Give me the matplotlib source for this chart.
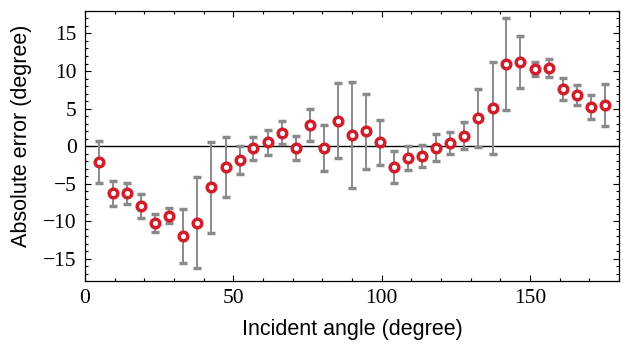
import matplotlib.pyplot as plt
from matplotlib.ticker import MultipleLocator

# incident angle (degree)
angle = [4.7, 9.5, 14.2, 18.9, 23.7, 28.4, 33.2, 37.9, 42.6, 47.4,
         52.1, 56.8, 61.6, 66.3, 71.1, 75.8, 80.5, 85.3, 90.0, 94.7,
         99.5, 104.2, 108.9, 113.7, 118.4, 123.2, 127.9, 132.6, 137.4, 142.1,
         146.8, 151.6, 156.3, 161.1, 165.8, 170.5, 175.3]
# absolute error (degree)
err_mean = [-2.1, -6.3, -6.3, -8.0, -10.3, -9.3, -12.0, -10.2, -5.5, -2.8,
            -1.9, -0.3, 0.5, 1.8, -0.3, 2.8, -0.3, 3.4, 1.5, 2.0,
            0.5, -2.8, -1.6, -1.3, -0.2, 0.45, 1.4, 3.7, 5.1, 10.9,
            11.2, 10.3, 10.4, 7.6, 6.8, 5.2, 5.5]
err_sd = [2.8, 1.65, 1.4, 1.55, 1.2, 1.0, 3.65, 6.1, 6.05, 3.95,
          1.85, 1.5, 1.65, 1.5, 1.6, 2.15, 3.05, 5.0, 7.1, 5.0,
          3.0, 2.1, 1.6, 1.45, 1.75, 1.45, 1.85, 3.85, 6.1, 6.15,
          3.5, 0.95, 1.2, 1.5, 1.35, 1.6, 2.8]

plt.rcParams["font.family"] = "Liberation Serif"
plt.rcParams["axes.unicode_minus"] = True

fig = plt.figure(figsize=(6.23, 3.47), dpi=100)
ax = fig.add_axes([0.1364, 0.1902, 0.857, 0.7781])

ax.axhline(0, color="black", lw=1.0, zorder=1)
ax.errorbar(angle, err_mean, yerr=err_sd, fmt="o", color="#8a8a8a",
            ecolor="#8a8a8a", elinewidth=1.4, capsize=2.6, capthick=1.2,
            mfc="white", mec="#d01f2b", ms=6.2, mew=2.5, zorder=3)

ax.set_xlim(0, 180)
ax.set_ylim(-18, 18)
ax.xaxis.set_major_locator(MultipleLocator(50))
ax.xaxis.set_minor_locator(MultipleLocator(10))
ax.yaxis.set_major_locator(MultipleLocator(5))
ax.yaxis.set_minor_locator(MultipleLocator(1))
ax.tick_params(which="both", direction="in", top=True, right=True,
               width=0.8, labelsize=15.5)
ax.tick_params(which="major", length=4.3, pad=6)
ax.tick_params(which="minor", length=2.4)
for s in ax.spines.values():
    s.set_linewidth(0.9)

ax.set_xlabel("Incident angle (degree)", family="Liberation Sans",
              fontsize=15.5, labelpad=8)
ax.set_ylabel("Absolute error (degree)", family="Liberation Sans",
              fontsize=15.5)
ax.yaxis.set_label_coords(-0.1, 0.537)

fig.savefig("out.png", dpi=100)
